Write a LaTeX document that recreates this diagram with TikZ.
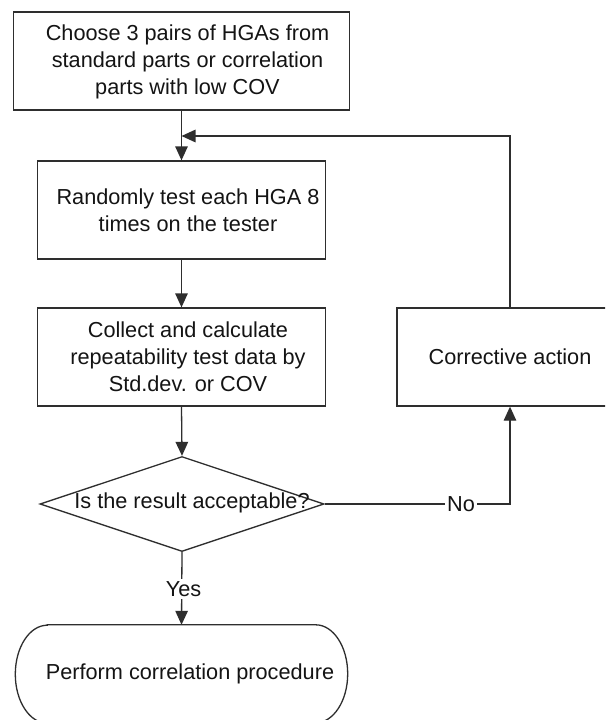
\documentclass[tikz,border=0pt]{standalone}
\usepackage{fontspec}
\setmainfont{Liberation Sans}
\usetikzlibrary{shapes.geometric,arrows.meta}
\begin{document}
\begin{tikzpicture}[x=1pt,y=1pt,
  every node/.style={font=\fontsize{21.7}{26.7}\selectfont, text=black!92},
  ln/.style={draw=black!82, line width=1.3pt},
  frame/.style={ln, rectangle, inner sep=0pt},
  txt/.style={align=center, inner sep=0pt},
  arr/.style={ln, -{Triangle[length=14pt,width=12.5pt]}},
  lbl/.style={fill=white, inner sep=2pt}]
\useasboundingbox (0,0) rectangle (605,-720);
\clip (0,0) rectangle (605,-720);
\fill[white] (0,0) rectangle (605,-720);
% boxes
\node[frame, minimum width=336pt, minimum height=98pt] (b1) at (181.5,-61) {};
\node[txt] (t1) at (187.5,-61.7) {Choose 3 pairs of HGAs from\\standard parts or correlation\\parts with low COV};
\node[frame, minimum width=288pt, minimum height=98pt] (b2) at (181.5,-210) {};
\node[txt] (t2) at (188,-210) {Randomly test each HGA 8\\times on the tester};
\node[frame, minimum width=288pt, minimum height=98pt] (b3) at (181.5,-357) {};
\node[txt] (t3) at (188,-356.7) {Collect and calculate\\repeatability test data by\\Std.dev. or COV};
\node[frame, minimum width=226pt, minimum height=98pt] (corr) at (510,-357) {};
\node[txt] (tc) at (510,-357) {Corrective action};
\node[ln, diamond, inner sep=0pt, minimum width=284pt, minimum height=95pt] (dia) at (182,-504) {};
\node[txt] (td) at (192,-503) {Is the result acceptable?};
\node[rectangle, inner sep=0pt, minimum width=332pt, minimum height=98pt] (term) at (181.5,-674) {};
\draw[ln] ([xshift=32pt]term.north west) -- ([xshift=-32pt]term.north east)
  arc[start angle=90, end angle=-90, x radius=32pt, y radius=49pt]
  -- ([xshift=32pt]term.south west)
  arc[start angle=270, end angle=90, x radius=32pt, y radius=49pt] -- cycle;
\node[txt] (tt) at (190,-674) {Perform correlation procedure};
% connectors
\coordinate (fb) at (corr.north |- 0,-136);
\coordinate (fbj) at (b1.south |- 0,-136);
\coordinate (nocorner) at (corr.south |- dia.east);
\draw[arr] (b1.south) -- (b2.north);
\draw[arr] (corr.north) -- (fb) -- (fbj);
\draw[arr] (b2.south) -- (b3.north);
\draw[arr] (b3.south) -- (dia.north);
\draw[arr] (dia.east) -- (nocorner) -- (corr.south);
\node[lbl] (no) at (461,-504) {No};
\draw[arr] (dia.south) -- (term.north);
\node[lbl] (yes) at (183.5,-589) {Yes};
\end{tikzpicture}
\end{document}
